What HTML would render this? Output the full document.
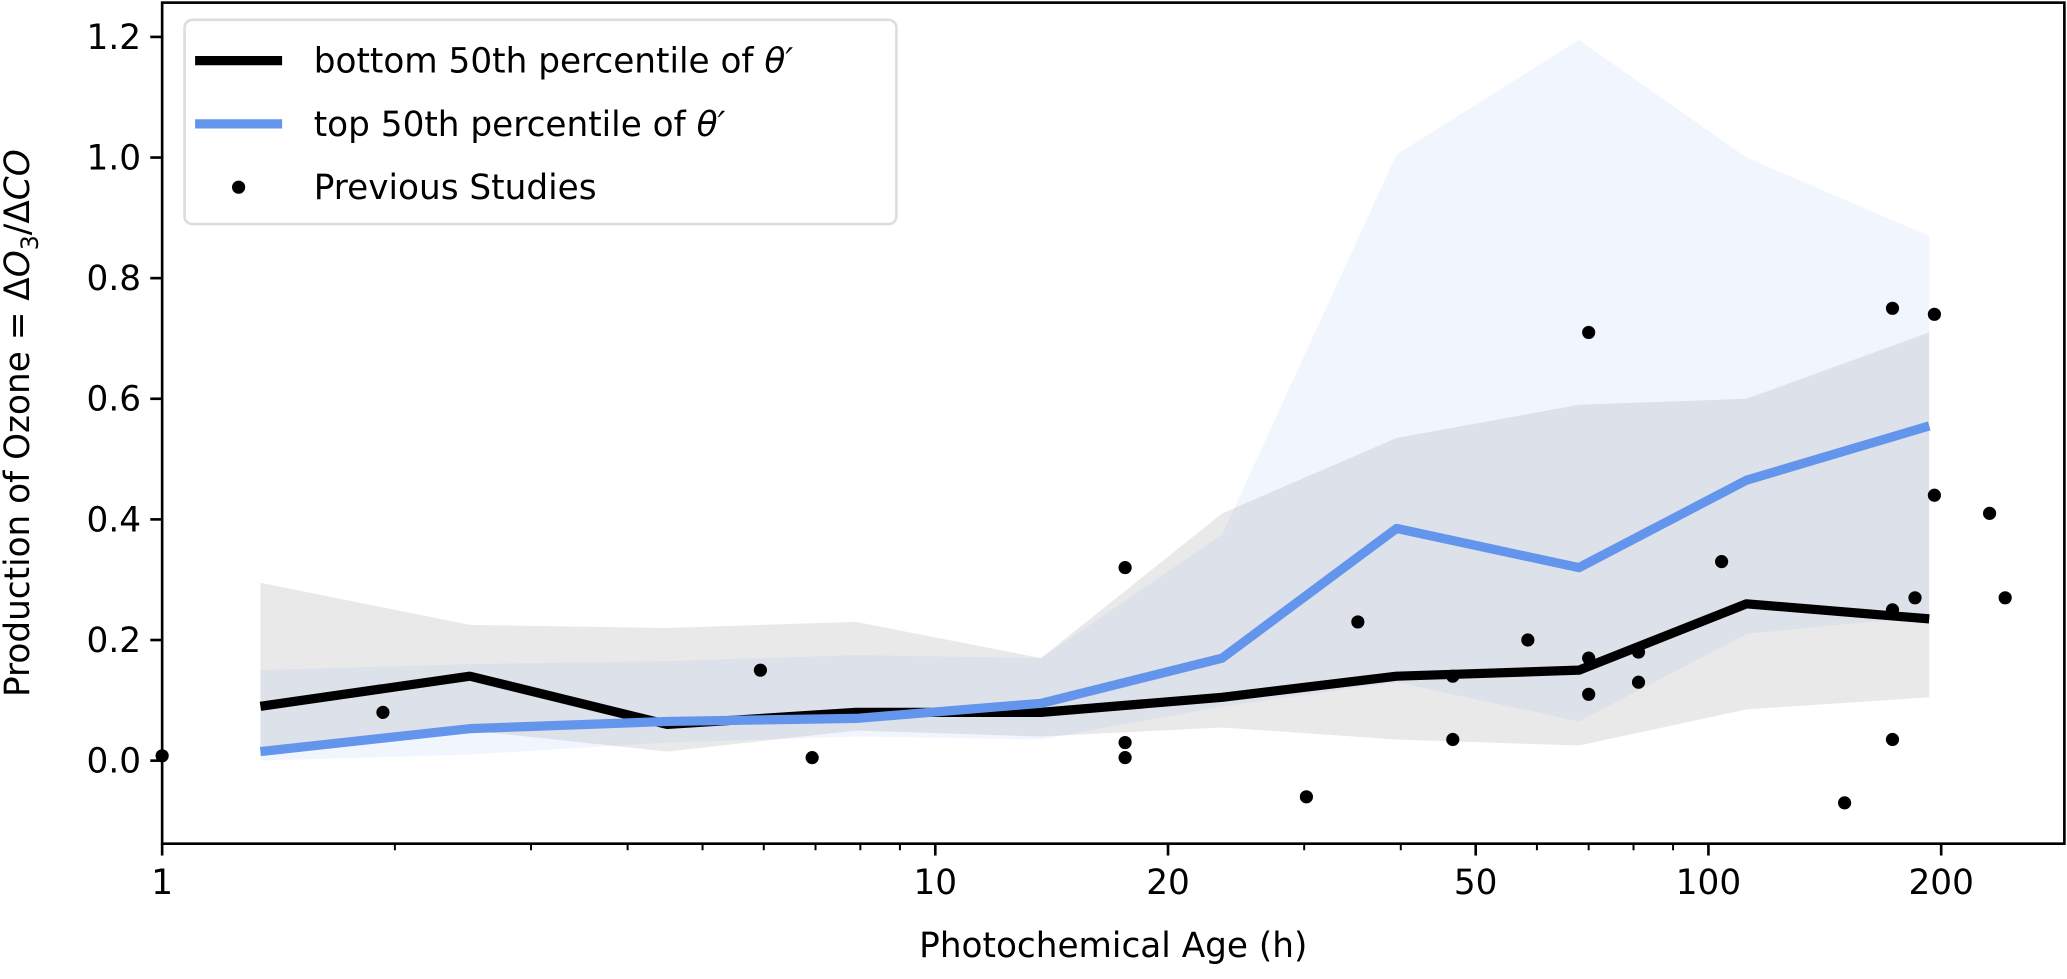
<!DOCTYPE html>
<html><head><meta charset="utf-8"><style>
body{margin:0;background:#fff;overflow:hidden;}
svg{display:block;}
svg text{font-family:"DejaVu Sans","Liberation Sans",sans-serif;fill:#000;}
</style></head><body>
<svg id="chart" width="2067" height="979" viewBox="0 0 1568 742.65" preserveAspectRatio="none" xmlns="http://www.w3.org/2000/svg">
<g id="bands"></g><g id="lines"></g><g id="points"></g><g id="axes"></g><g id="legend"></g>
</svg>
<script>
const ages=[1.34,2.5,4.5,7.9,13.7,23.5,39.5,68,112,193];
const bottomMed=[0.09,0.14,0.06,0.08,0.08,0.105,0.14,0.15,0.26,0.235];
const topMed=[0.015,0.053,0.065,0.07,0.095,0.17,0.385,0.32,0.465,0.555];
const bottomLo=[0.01,0.05,0.015,0.05,0.04,0.055,0.035,0.025,0.085,0.105];
const bottomHi=[0.295,0.225,0.22,0.23,0.17,0.41,0.535,0.59,0.60,0.71];
const topLo=[0.0,0.01,0.03,0.04,0.035,0.09,0.13,0.065,0.21,0.24];
const topHi=[0.15,0.16,0.165,0.175,0.17,0.375,1.005,1.195,1.0,0.87];
const studyX=[1,1.93,5.94,6.93,17.6,17.6,17.6,30.2,35.2,46.7,46.7,58.4,70,70,70,81.2,81.2,104,150,173,173,173,185,196,196,231,242];
const studyY=[0.008,0.08,0.15,0.005,0.32,0.03,0.005,-0.06,0.23,0.14,0.035,0.2,0.71,0.17,0.11,0.18,0.13,0.33,-0.07,0.75,0.25,0.035,0.27,0.74,0.44,0.41,0.27];
const yTicks=[0,0.2,0.4,0.6,0.8,1.0,1.2];
const xTicks=[1,10,20,50,100,200];
const NS='http://www.w3.org/2000/svg';
const L=123,R=1566,T=2,B=640,DEC=586.5;
const xs=v=>L+Math.log10(v)*DEC;
const ys=v=>577-v/0.2*91.5;
function mk(tag,attrs,parent){const e=document.createElementNS(NS,tag);for(const k in attrs)e.setAttribute(k,attrs[k]);document.getElementById(parent).appendChild(e);return e;}
function band(lo,hi,fill,name){
 let p=ages.map((a,i)=>xs(a)+','+ys(hi[i])).concat(ages.map((a,i)=>xs(a)+','+ys(lo[i])).reverse());
 const e=mk('polygon',{points:p.join(' '),fill:fill},'bands');
 
 
}
band(bottomLo,bottomHi,'rgba(200,200,200,0.4)','bottom-percentile-band');
band(topLo,topHi,'rgba(100,149,237,0.09)','top-percentile-band');
function line(vals,color,name){
 const e=mk('polyline',{points:ages.map((a,i)=>xs(a)+','+ys(vals[i])).join(' '),fill:'none',stroke:color,'stroke-width':7,'stroke-linejoin':'round'},'lines');
 
 
}
line(bottomMed,'#000','bottom-percentile-line');
line(topMed,'#6495ed','top-percentile-line');
studyX.forEach((x,i)=>{
 const c=mk('circle',{cx:xs(x),cy:ys(studyY[i]),r:5,fill:'#000'},'points');
 
 
});
const fr=mk('rect',{x:L,y:T,width:R-L,height:B-T,fill:'none',stroke:'#000','stroke-width':2},'axes');


yTicks.forEach(v=>{
 mk('line',{x1:L-9,x2:L,y1:ys(v),y2:ys(v),stroke:'#000','stroke-width':2},'axes');
 const t=mk('text',{x:L-16,y:ys(v)+9,'text-anchor':'end','font-size':26},'axes');
 t.textContent=v.toFixed(1);
 
 
});
for(let d=0;d<3;d++)for(let m=2;m<10;m++){const v=m*Math.pow(10,d);if(xs(v)>R)break;
 mk('line',{x1:xs(v),x2:xs(v),y1:B,y2:B+5,stroke:'#000','stroke-width':1.5},'axes');}
xTicks.forEach(v=>{
 mk('line',{x1:xs(v),x2:xs(v),y1:B,y2:B+9,stroke:'#000','stroke-width':2},'axes');
 const t=mk('text',{x:xs(v),y:B+38,'text-anchor':'middle','font-size':26},'axes');
 t.textContent=v;
 
 
});
const xt=mk('text',{x:(L+R)/2,y:726,'text-anchor':'middle','font-size':26},'axes');
xt.textContent='Photochemical Age (h)';


const yt=mk('text',{x:0,y:0,'text-anchor':'middle','font-size':26,transform:'translate(22,321) rotate(-90)'},'axes');
yt.innerHTML='Production of Ozone = Δ<tspan font-style="italic">O</tspan><tspan font-size="18" dy="7">3</tspan><tspan dy="-7">/Δ</tspan><tspan font-style="italic">CO</tspan>';


const lb=mk('rect',{x:140,y:15,width:540,height:155,rx:6,fill:'#fff','fill-opacity':0.85,stroke:'#ddd','stroke-width':2},'legend');


const entries=[['bottom 50th percentile of ','#000','line'],['top 50th percentile of ','#6495ed','line'],['Previous Studies','#000','dot']];
entries.forEach((en,i)=>{
 const y=34+i*48;
 if(en[2]==='line')mk('line',{x1:148,x2:214,y1:y+12,y2:y+12,stroke:en[1],'stroke-width':7},'legend');
 else mk('circle',{cx:181,cy:y+12,r:5,fill:'#000'},'legend');
 const t=mk('text',{x:238,y:y+21,'font-size':26},'legend');
 t.innerHTML=en[2]==='line'?en[0]+'<tspan font-style="italic">θ′</tspan>':en[0];
 
 
});
</script>
</body></html>
